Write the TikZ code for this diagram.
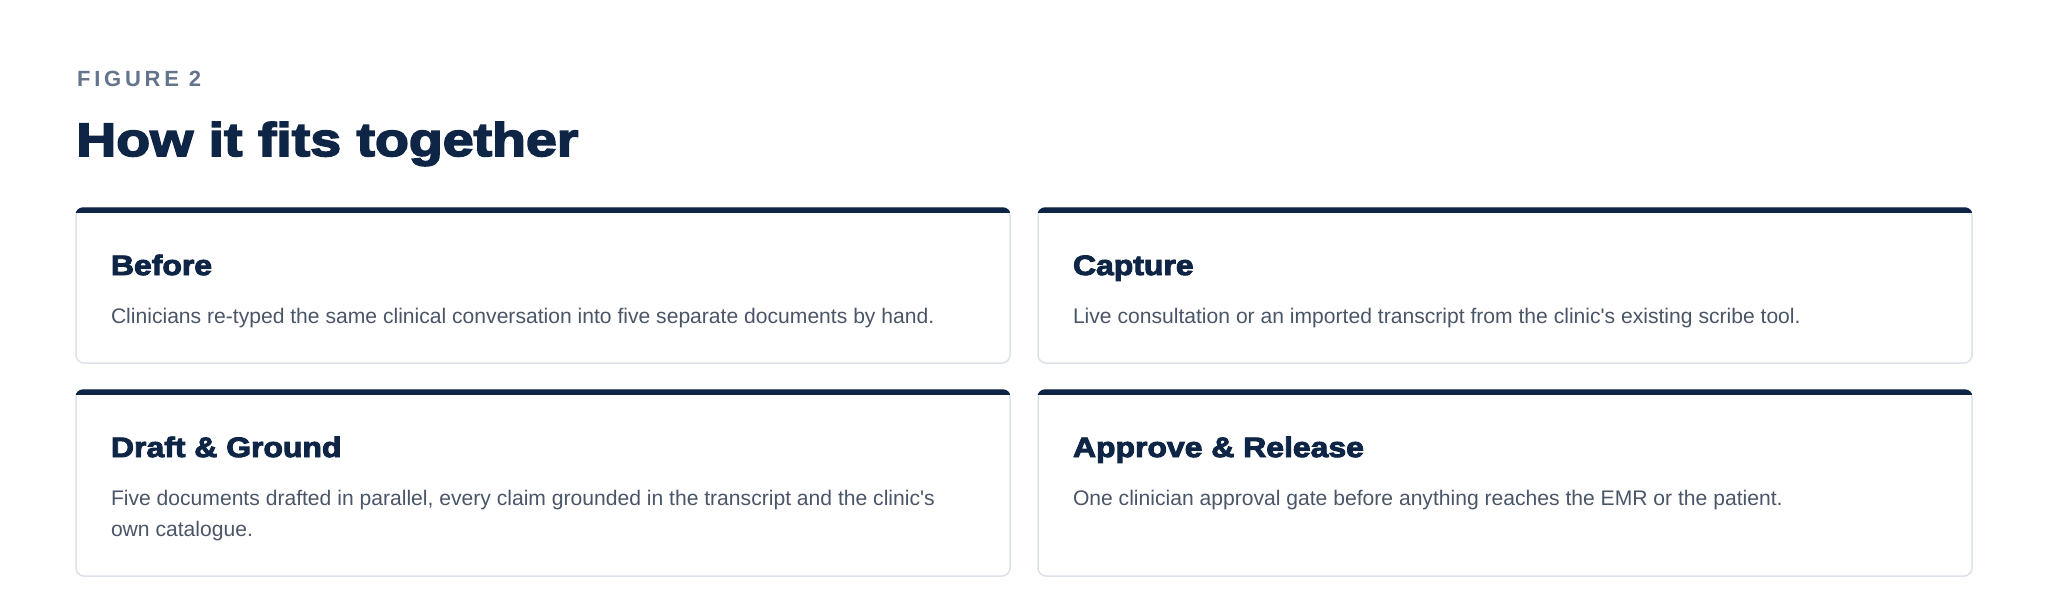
\documentclass[tikz,border=0pt]{standalone}
\usepackage{fontspec}
\setmainfont{Liberation Sans}[Ligatures=TeXOff]
\newfontface\headface{Liberation Sans Bold}[FakeBold=3.4,FakeStretch=1.14]
\newfontface\bigface{Liberation Sans Bold}[FakeBold=3.6,FakeStretch=1.18]
\newfontface\labelface{Liberation Sans Bold}[LetterSpace=17]
\definecolor{navy}{HTML}{0F2545}
\definecolor{slate}{HTML}{4A5568}
\definecolor{muted}{HTML}{64748B}
\definecolor{edge}{HTML}{DDE2EA}
\begin{document}
\begin{tikzpicture}[x=1pt,y=-1pt,
  card/.style={draw=edge, line width=1.5pt, rounded corners=8pt, fill=white,
    inner sep=0pt, outer sep=0pt, anchor=north west, minimum width=934pt},
  cardtitle/.style={anchor=base west, inner sep=0pt, outer sep=0pt, text=navy,
    font=\headface\fontsize{28}{34}\selectfont},
  cardbody/.style={anchor=base west, inner sep=0pt, outer sep=0pt, text=slate,
    align=left, font=\fontsize{21.1}{31}\selectfont}]
\useasboundingbox[fill=white] (0,0) rectangle (2048,594);
\node[anchor=base west, inner sep=0pt, text=muted, font=\labelface\fontsize{22}{26}\selectfont] (fig) at (77,87) {FIGURE 2};
\node[anchor=base west, inner sep=0pt, text=navy, font=\bigface\fontsize{47}{56}\selectfont] (title) at (76,156) {How it fits together};
% cards
\node[card, minimum height=155pt] (c1) at (76,208) {};
\node[card, minimum height=155pt] (c2) at (1038,208) {};
\node[card, minimum height=186pt] (c3) at (76,390) {};
\node[card, minimum height=186pt] (c4) at (1038,390) {};
\foreach \c in {c1,c2,c3,c4}{
  \begin{scope}
    \clip[rounded corners=8pt] ([xshift=-0.75pt,yshift=0.75pt]\c.north west) rectangle ([xshift=0.75pt,yshift=-0.75pt]\c.south east);
    \fill[navy] ([xshift=-1pt,yshift=1pt]\c.north west) rectangle ([xshift=1pt,yshift=-5pt]\c.north east);
  \end{scope}
}
\node[cardtitle] (t1) at (111,275) {Before};
\node[cardbody] (b1) at (111,323) {Clinicians re-typed the same clinical conversation into five separate documents by hand.};
\node[cardtitle] (t2) at (1073,275) {Capture};
\node[cardbody] (b2) at (1073,323) {Live consultation or an imported transcript from the clinic's existing scribe tool.};
\node[cardtitle] (t3) at (111,457) {Draft \& Ground};
\node[cardbody] (b3) at (111,536) {Five documents drafted in parallel, every claim grounded in the transcript and the clinic's\\own catalogue.};
\node[cardtitle] (t4) at (1073,457) {Approve \& Release};
\node[cardbody] (b4) at (1073,505) {One clinician approval gate before anything reaches the EMR or the patient.};
\end{tikzpicture}
\end{document}
